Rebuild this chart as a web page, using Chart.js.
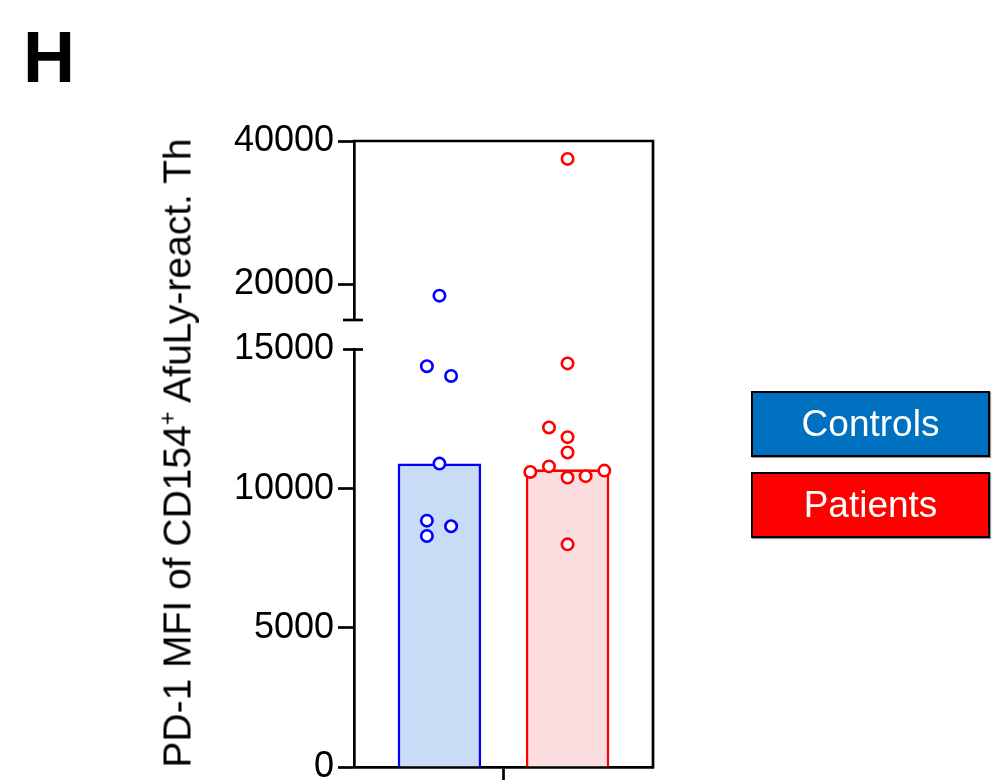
<!DOCTYPE html>
<html>
<head>
<meta charset="utf-8">
<script src="https://cdn.jsdelivr.net/npm/chart.js@4.4.1/dist/chart.umd.min.js"></script>
<style>
  html, body { margin: 0; padding: 0; background: #fff; }
  #wrap { position: relative; width: 1005px; height: 780px; overflow: hidden; font-family: "Liberation Sans", Arial, sans-serif; color: #000; }
  #chart { position: absolute; left: 0; top: 0; }
  .panel { position: absolute; left: 23px; top: 21px; font-weight: bold; font-size: 72px; line-height: 1; }
  .ytitle { position: absolute; left: 177px; top: 453px; transform: translate(-50%, -50%) rotate(-90deg);
            font-size: 39px; line-height: 1; white-space: nowrap; }
  .ytitle .sup { font-size: 0.6em; position: relative; top: -0.65em; }
  .key { position: absolute; left: 751px; width: 235px; height: 62px; border: 2px solid #000; color: #fff;
         font-size: 37px; display: flex; align-items: center; justify-content: center; box-shadow: 1px 1px 1px #9a9a9a; }
</style>
</head>
<body>
<div id="wrap">
  <canvas id="chart" width="1005" height="780"></canvas>
  <div class="panel">H</div>
  <div class="ytitle">PD-1 MFI of CD154<span class="sup">+</span> AfuLy-react. Th</div>
  <div class="key" style="top:391px;background:#0070C0;">Controls</div>
  <div class="key" style="top:472px;background:#FF0000;">Patients</div>
</div>
<script>
// ---- data ----
const groups = ['Controls', 'Patients'];
const barHeights = [10900, 10700];          // bar = group median
const controlsValues = [18400, 14400, 14050, 10900, 8850, 8650, 8300];
const patientsValues = [37500, 14500, 12200, 11850, 11300, 10800, 10600, 10650, 10400, 10450, 8000];
const lowerTicks = [0, 5000, 10000, 15000];
const upperTicks = [20000, 40000];
const breakValue = 15000;
const upperMax = 40000;

// ---- horizontal scatter of points within each group (in category widths) ----
const controlsSpread = [0, -0.098, 0.091, 0, -0.098, 0.091, -0.098];
const patientsSpread = [0, 0, -0.145, 0, 0, -0.145, -0.291, 0.287, 0, 0.141, 0];

const lineColors = ['#0000FF', '#FF0000'];
const fillColors = ['#C8DCF5', '#FDDEE0'];
const AXIS_W = 2.7;

function pointSets(values, spread, groupIndex) {
  const low = [], high = [];
  values.forEach((v, i) => {
    const p = { x: groupIndex + spread[i], y: v };
    (v > breakValue ? high : low).push(p);
  });
  const base = {
    type: 'scatter', xAxisID: 'x', order: 1, clip: false,
    pointRadius: 5.7, pointBorderWidth: 2.6, pointHoverRadius: 5.7,
    pointBackgroundColor: '#fff', pointBorderColor: lineColors[groupIndex]
  };
  return [
    Object.assign({ label: groups[groupIndex], data: low, yAxisID: 'yLow' }, base),
    Object.assign({ label: groups[groupIndex], data: high, yAxisID: 'yHigh' }, base)
  ];
}

const tickFont = { family: '"Liberation Sans", Arial, sans-serif', size: 36 };

function yAxis(extra) {
  return Object.assign({
    type: 'linear', position: 'left', stack: 'left',
    border: { display: true, color: '#000', width: AXIS_W },
    grid: { drawOnChartArea: false, drawTicks: true, tickLength: 16, tickWidth: AXIS_W, tickColor: '#000' },
    ticks: { font: tickFont, color: '#000', padding: 4, callback: v => String(v) },
    afterFit: s => { s.width = 130; s.paddingTop = 0; s.paddingBottom = 0; }
  }, extra);
}

// frame on the top and right, plus caps at the axis break
const framePlugin = {
  id: 'frame',
  afterDraw(chart) {
    const { ctx, chartArea: a, scales } = chart;
    ctx.save();
    ctx.strokeStyle = '#000';
    ctx.lineWidth = AXIS_W;
    ctx.lineCap = 'square';
    ctx.beginPath();
    ctx.moveTo(a.left, a.top);
    ctx.lineTo(a.right, a.top);
    ctx.lineTo(a.right, a.bottom);
    ctx.stroke();
    const ax = a.left - 1;
    ctx.lineCap = 'butt';
    [scales.yHigh.getPixelForValue(breakValue), scales.yLow.getPixelForValue(breakValue)].forEach(y => {
      ctx.beginPath();
      ctx.moveTo(ax - 10, y);
      ctx.lineTo(ax + 10, y);
      ctx.stroke();
    });
    ctx.restore();
  }
};

new Chart(document.getElementById('chart'), {
  type: 'bar',
  data: {
    datasets: [
      {
        type: 'bar', label: 'median', xAxisID: 'x', yAxisID: 'yLow', order: 2,
        data: groups.map((g, i) => ({ x: i, y: barHeights[i] })),
        backgroundColor: fillColors, borderColor: lineColors, borderWidth: 2.7,
        borderSkipped: 'start', barPercentage: 0.652, categoryPercentage: 1
      },
      ...pointSets(controlsValues, controlsSpread, 0),
      ...pointSets(patientsValues, patientsSpread, 1)
    ]
  },
  options: {
    responsive: false,
    animation: false,
    events: [],
    layout: { padding: { left: 224, right: 352, top: 141, bottom: 0 } },
    plugins: { legend: { display: false }, tooltip: { enabled: false } },
    scales: {
      x: {
        type: 'linear', min: -0.667, max: 1.667, offset: false,
        border: { display: true, color: '#000', width: AXIS_W },
        grid: { offset: false, drawOnChartArea: false, tickLength: 14, tickWidth: AXIS_W, tickColor: '#000' },
        ticks: { display: false },
        afterBuildTicks: s => { s.ticks = [{ value: 0.5 }]; },
        afterFit: s => { s.height = 13; s.paddingLeft = 0; s.paddingRight = 0; }
      },
      yHigh: yAxis({
        stackWeight: 179, weight: 3, min: breakValue, max: upperMax,
        afterBuildTicks: s => { s.ticks = upperTicks.map(v => ({ value: v })); }
      }),
      yGap: {
        type: 'linear', position: 'left', stack: 'left', stackWeight: 29.5, weight: 2,
        display: false, afterFit: s => { s.width = 130; }
      },
      yLow: yAxis({
        stackWeight: 417.5, weight: 1, min: 0, max: breakValue,
        afterBuildTicks: s => { s.ticks = lowerTicks.map(v => ({ value: v })); },
        grid: {
          drawOnChartArea: false, drawTicks: true, tickLength: 16, tickWidth: AXIS_W,
          tickColor: c => (c.tick && c.tick.value === breakValue ? 'rgba(0,0,0,0)' : '#000')
        }
      })
    }
  },
  plugins: [framePlugin]
});
</script>
</body>
</html>
